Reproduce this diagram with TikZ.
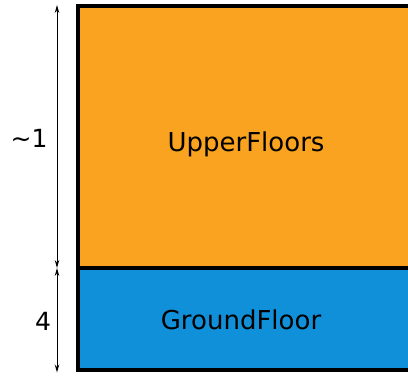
\documentclass[tikz,border=0pt]{standalone}
\usepackage{fontspec}
\setmainfont{DejaVu Sans}
\usetikzlibrary{arrows.meta}
\definecolor{upper}{RGB}{249,163,32}
\definecolor{ground}{RGB}{17,144,218}
\tikzset{
  floorbox/.style={draw=black,line width=4.5pt},
  lbl/.style={anchor=base,inner sep=0pt,font=\fontsize{26}{30}\selectfont},
  dimlbl/.style={anchor=base,inner sep=0pt,font=\fontsize{25}{30}\selectfont},
  dim/.style={line width=1pt,{Stealth[length=8pt,width=4.5pt]}-{Stealth[length=8pt,width=4.5pt]}}
}
\begin{document}
\begin{tikzpicture}[x=1pt,y=1pt]
\useasboundingbox (0,0) rectangle (408,376);
\clip (0,0) rectangle (408,376);
\fill[upper] (78,108) rectangle (420,370);
\fill[ground] (78,6) rectangle (420,108);
\draw[floorbox] (420,370) -- (78,370) -- (78,6) -- (420,6);
\draw[floorbox] (78,108) -- (420,108);
\node[lbl] (uf) at (246,225) {UpperFloors};
\node[lbl] (gf) at (241,46.5) {GroundFloor};
\coordinate (top) at (57,371);
\coordinate (mid) at (57,108);
\coordinate (bot) at (57,3.5);
\draw[dim] (mid) -- (top);
\draw[dim] (bot) -- (mid);
\node[dimlbl] (d1) at (29,229) {\textasciitilde 1};
\node[dimlbl] (d2) at (43,45.5) {4};
\end{tikzpicture}
\end{document}
